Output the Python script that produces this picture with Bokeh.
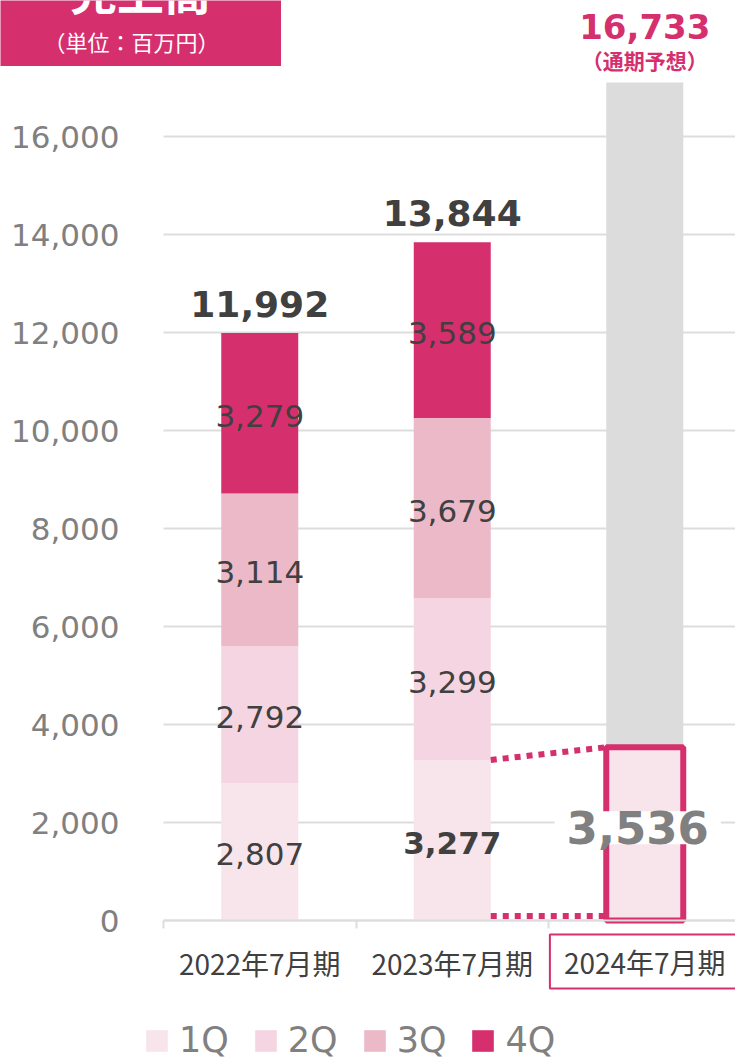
from bokeh.plotting import figure
from bokeh.models import (Range1d, FixedTicker, NumeralTickFormatter, Label, Legend,
                          LegendItem, ColumnDataSource, GlobalInlineStyleSheet,
                          LinearAxis, Grid)
from bokeh.core.properties import value
from bokeh.embed import file_html
from bokeh.resources import INLINE

# ---------------- data ----------------
periods = ["2022年7月期", "2023年7月期", "2024年7月期"]
quarters = ["1Q", "2Q", "3Q", "4Q"]
q1 = [2807, 3277, 3536]
q2 = [2792, 3299, 0]
q3 = [3114, 3679, 0]
q4 = [3279, 3589, 0]
totals = [11992, 13844]
forecast_total = 16733
forecast_bar_top = 17100          # grey forecast bar as drawn
forecast_note = "（通期予想）"
y_ticks = [0, 2000, 4000, 6000, 8000, 10000, 12000, 14000, 16000]
title_text = "売上高"
unit_text = "（単位：百万円）"

# ---------------- style ----------------
PINK = "#D52F6E"
colors = ["#F8E5EC", "#F5D5E1", "#EBB9C8", PINK]
GREY_BAR = "#DCDCDC"
GRID = "#DDDDDD"
DARK = "#404040"
MID = "#808080"
NUM_FONT = "DejaVu Sans"
JP_FONT = "Noto Sans CJK JP"

W, H = 735, 1061
FL, FB = 163, 920                 # axis origin in px (left / bottom)
PX_CAT = 192.5                    # px per category
PX_Y = 0.049                      # px per unit of value
x_start = -0.5 - FL / PX_CAT
x_end = x_start + W / PX_CAT
y_start = -(H - FB) / PX_Y
y_end = FB / PX_Y
BW = 0.4


def px_x(px):
    return x_start + px / PX_CAT


def px_y(py):
    return (FB - py) / PX_Y


def dpx(n):
    return n / PX_Y


p = figure(width=W, height=H, output_backend="svg", toolbar_location=None,
           x_range=Range1d(x_start, x_end), y_range=Range1d(y_start, y_end),
           x_axis_type=None, y_axis_type=None,
           min_border=0, min_border_left=0, min_border_right=0,
           min_border_top=0, min_border_bottom=0, outline_line_color=None)
p.stylesheets = [GlobalInlineStyleSheet(css="html, body { margin: 0 !important; padding: 0; overflow: hidden; }")]

# grid lines
if "cross_bounds" in Grid.properties():
    grid = Grid(dimension=1, ticker=FixedTicker(ticks=y_ticks), cross_bounds=(-0.5, x_end),
                grid_line_color=GRID, grid_line_width=2)
    p.add_layout(grid)
else:
    p.segment(x0=[-0.5] * len(y_ticks), x1=[x_end] * len(y_ticks), y0=y_ticks, y1=y_ticks,
              line_color=GRID, line_width=2, level="underlay")

# y axis
ya = LinearAxis(fixed_location=-0.5, ticker=FixedTicker(ticks=y_ticks),
                formatter=NumeralTickFormatter(format="0,0"))
ya.axis_line_color = None
ya.major_tick_line_color = None
ya.minor_tick_line_color = None
ya.major_tick_out = 0
ya.major_tick_in = 0
ya.major_label_standoff = 44
ya.major_label_text_font = NUM_FONT
ya.major_label_text_font_size = "31px"
ya.major_label_text_color = MID
p.add_layout(ya, "left")

# x axis
xa = LinearAxis(fixed_location=0, bounds=(-0.5, x_end),
                ticker=FixedTicker(ticks=[0, 1, 2], minor_ticks=[-0.5, 0.5, 1.5, 2.5]))
xa.major_label_overrides = {0: periods[0], 1: periods[1], 2: ""}
xa.axis_line_color = GRID
xa.axis_line_width = 2
xa.major_tick_line_color = None
xa.major_tick_out = 0
xa.major_tick_in = 0
xa.minor_tick_line_color = GRID
xa.minor_tick_line_width = 2
xa.minor_tick_out = 8
xa.minor_tick_in = 0
xa.major_label_standoff = 14
xa.major_label_text_font = JP_FONT
xa.major_label_text_font_size = "28px"
xa.major_label_text_color = DARK
p.add_layout(xa, "below")

# forecast grey bar
p.vbar(x=[2], top=[forecast_bar_top], bottom=0, width=BW, fill_color=GREY_BAR, line_color=None)

# stacked bars
src = ColumnDataSource(dict(x=[0, 1, 2], **{"1Q": q1, "2Q": q2, "3Q": q3, "4Q": q4}))
rs = p.vbar_stack(quarters, x="x", width=BW, color=colors, line_color=None, line_width=0, source=src)

# outlined 1Q of 2024
p.vbar(x=[2], top=[q1[2]], bottom=0, width=BW, fill_color=None, line_color=PINK, line_width=6)

# connectors
p.line(x=[1 + BW / 2, 2 - BW / 2], y=[q1[1], q1[2]], line_color=PINK, line_width=6, line_dash="6 6")
p.line(x=[1 + BW / 2, 2 - BW / 2], y=[dpx(4.5), dpx(4.5)], line_color=PINK, line_width=6, line_dash="6 6")

# segment labels
series = [q1, q2, q3, q4]
lx, ly, lt, bx, by, bt = [], [], [], [], [], []
for i in range(2):
    base = 0
    for j, s in enumerate(series):
        mid = base + s[i] / 2 - dpx(2.5)
        if i == 1 and j == 0:
            bx.append(i); by.append(mid); bt.append(f"{s[i]:,}")
        else:
            lx.append(i); ly.append(mid); lt.append(f"{s[i]:,}")
        base += s[i]
p.text(x=lx, y=ly, text=lt, text_font=value(NUM_FONT), text_font_size="31px",
       text_color=DARK, text_align="center", text_baseline="middle")
p.text(x=bx, y=by, text=bt, text_font=value(NUM_FONT), text_font_size="31px",
       text_font_style="bold", text_color=DARK, text_align="center", text_baseline="middle")

# totals
p.text(x=[0, 1], y=[t + dpx(29) for t in totals], text=[f"{t:,}" for t in totals],
       text_font=value(NUM_FONT), text_font_size="36px", text_font_style="bold",
       text_color=DARK, text_align="center", text_baseline="middle")

# 2024 1Q big label
p.text(x=[2 - 7 / PX_CAT], y=[q1[2] / 2 + dpx(6)], text=[f"{q1[2]:,}"],
       text_font=value(NUM_FONT), text_font_size="45px", text_font_style="bold",
       text_color=MID, text_align="center", text_baseline="middle",
       background_fill_color="white", padding=(12, 0))

# forecast labels
p.text(x=[2], y=[forecast_bar_top + dpx(56)], text=[f"{forecast_total:,}"],
       text_font=value(NUM_FONT), text_font_size="34px", text_font_style="bold",
       text_color=PINK, text_align="center", text_baseline="middle")
p.add_layout(Label(x=2, y=forecast_bar_top + dpx(23), text=forecast_note,
                   text_font=JP_FONT, text_font_size="21px", text_font_style="bold",
                   text_color=PINK, text_align="center", text_baseline="middle"))

# third category label with frame
p.add_layout(Label(x=2, y=px_y(961), text=periods[2], text_font=JP_FONT,
                   text_font_size="28px", text_color=DARK, text_align="center",
                   text_baseline="middle", border_line_color=PINK, border_line_width=2,
                   background_fill_color="white", padding=(14, 7)))

# title box
p.add_layout(Label(x=px_x(140), y=px_y(-11), text=title_text, text_font=JP_FONT,
                   text_font_size="47px", text_font_style="bold", text_color="white",
                   text_align="center", text_baseline="middle",
                   background_fill_color=PINK, padding=(70, 42)))
p.add_layout(Label(x=px_x(131), y=px_y(40), text=unit_text, text_font=JP_FONT,
                   text_font_size="22px", text_color="white",
                   text_align="center", text_baseline="middle"))

# legend
legend = Legend(items=[LegendItem(label=q, renderers=[r]) for q, r in zip(quarters, rs)],
                orientation="horizontal", location=(143, 1),
                glyph_width=27, glyph_height=27, label_standoff=9, spacing=23,
                padding=0, margin=0, border_line_color=None, background_fill_color=None,
                label_text_font=NUM_FONT, label_text_font_size="35px", label_text_color=MID)
p.add_layout(legend)

open("out.html", "w").write(file_html(p, INLINE))
